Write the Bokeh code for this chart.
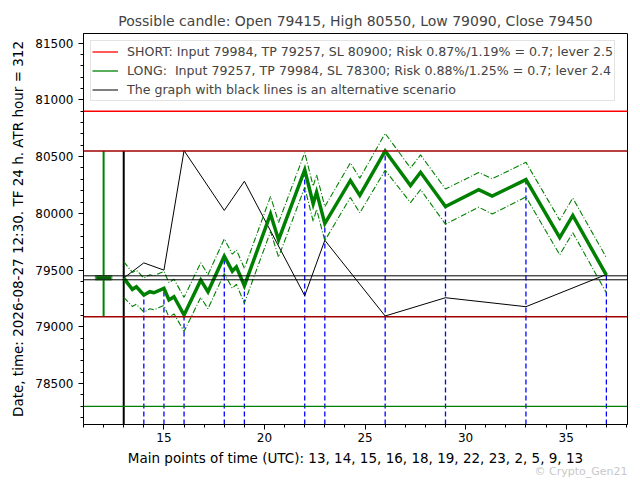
from bokeh.plotting import figure
from bokeh.models import Range1d, Span, Legend, LegendItem, Title, SingleIntervalTicker
from bokeh.embed import file_html
from bokeh.resources import INLINE

# ---------------- data ----------------
TITLE = "Possible candle: Open 79415, High 80550, Low 79090, Close 79450"
Y_LABEL = "Date, time: 2026-08-27 12:30. TF 24 h. ATR hour = 312"
X_LABEL = "Main points of time (UTC): 13, 14, 15, 16, 18, 19, 22, 23, 2, 5, 9, 13"
WATERMARK = "\u00a9 Crypto_Gen21"

candle_x = 12
OPEN, HIGH, LOW, CLOSE = 79415, 80550, 79090, 79450
SHORT_SL = 80900
LONG_SL = 78300

legend_labels = [
    "SHORT: Input 79984, TP 79257, SL 80900; Risk 0.87%/1.19% = 0.7; lever 2.5",
    "LONG:  Input 79257, TP 79984, SL 78300; Risk 0.88%/1.25% = 0.7; lever 2.4",
    "The graph with black lines is an alternative scenario",
]

main_hours = [13, 14, 15, 16, 18, 19, 22, 23, 26, 29, 33, 37]
alt_values = [79430, 79564, 79500, 80553, 80026, 80283, 79275, 79763, 79096, 79257, 79178, 79462]

path_hours = [13.0, 13.43, 13.63, 14.0, 14.3, 14.5, 15.0, 15.25, 15.5, 16.0, 16.83, 17.19,
              18.0, 18.4, 18.6, 19.0, 20.3, 20.7, 22.0, 22.42, 22.59, 23.0, 24.27, 24.74,
              26.0, 27.26, 27.76, 29.0, 30.65, 31.32, 33.0, 34.68, 35.33, 37.0]
path_main = [79430, 79331, 79353, 79281, 79310, 79301, 79340, 79237, 79266, 79105, 79412, 79310,
             79623, 79491, 79529, 79362, 79995, 79766, 80383, 80085, 80187, 79910, 80290, 80158,
             80550, 80246, 80362, 80061, 80208, 80152, 80298, 79787, 79982, 79456]
path_upper = [79575, 79480, 79500, 79430, 79460, 79450, 79490, 79390, 79420, 79260, 79565, 79460,
              79775, 79640, 79680, 79515, 80150, 79920, 80535, 80240, 80340, 80060, 80445, 80310,
              80705, 80400, 80515, 80215, 80360, 80305, 80450, 79940, 80135, 79610]
path_lower = [79260, 79180, 79200, 79130, 79160, 79150, 79190, 79085, 79115, 78960, 79260, 79160,
              79470, 79340, 79375, 79210, 79840, 79615, 80230, 79930, 80035, 79760, 80140, 80005,
              80380, 80095, 80210, 79905, 80055, 79995, 80145, 79635, 79830, 79300]

X_MIN, X_MAX = 11.0, 38.05
Y_MIN, Y_MAX = 78140, 81585

FONT = "DejaVu Sans"

# ---------------- figure ----------------
p = figure(width=638, height=478, x_range=Range1d(X_MIN, X_MAX), y_range=Range1d(Y_MIN, Y_MAX),
           output_backend="svg", toolbar_location=None, title=TITLE,
           min_border_left=83, min_border_right=11, min_border_top=33, min_border_bottom=54)

p.title.align = "center"
p.title.text_font = FONT
p.title.text_font_size = "14px"
p.title.text_font_style = "normal"
p.title.standoff = 10

p.grid.visible = False
p.outline_line_color = "black"
p.outline_line_alpha = 1
p.outline_line_width = 1

p.xaxis.ticker = SingleIntervalTicker(interval=5, num_minor_ticks=5)
p.yaxis.ticker = SingleIntervalTicker(interval=500, num_minor_ticks=5)
for ax in (p.xaxis[0], p.yaxis[0]):
    ax.major_tick_in = 0
    ax.major_tick_out = 5
    ax.minor_tick_in = 0
    ax.minor_tick_out = 3
    ax.major_label_text_font = FONT
    ax.major_label_text_font_size = "12px"
    ax.major_label_text_color = "black"
    ax.axis_label_text_font = FONT
    ax.axis_label_text_font_size = "13.5px"
    ax.axis_label_text_font_style = "normal"
    ax.axis_label_text_color = "black"
    ax.axis_line_color = "black"
    ax.major_tick_line_color = "black"
    ax.minor_tick_line_color = "black"
p.xaxis.major_label_standoff = 3
p.yaxis.major_label_standoff = 5
p.xaxis.axis_label = X_LABEL
p.yaxis.axis_label = Y_LABEL
p.xaxis.axis_label_standoff = 5
p.yaxis.axis_label_standoff = 6

# horizontal levels
p.add_layout(Span(location=SHORT_SL, dimension="width", line_color="#ff0000", line_width=1.3))
p.add_layout(Span(location=HIGH, dimension="width", line_color="#a00000", line_width=1.6))
p.add_layout(Span(location=LOW, dimension="width", line_color="#a00000", line_width=1.6))
p.add_layout(Span(location=LONG_SL, dimension="width", line_color="#008000", line_width=1.3))
p.add_layout(Span(location=CLOSE, dimension="width", line_color="black", line_width=1))
p.add_layout(Span(location=OPEN, dimension="width", line_color="black", line_width=1))

# legend carriers (single point: nothing visible in the plot)
r_short = p.line(x=[X_MIN], y=[SHORT_SL], line_color="#ff0000", line_width=1.3)
r_long = p.line(x=[X_MIN], y=[LONG_SL], line_color="#008000", line_width=1.3)

# candle
p.segment(x0=[candle_x], y0=[LOW], x1=[candle_x], y1=[HIGH], line_color="#008000", line_width=2)
p.vbar(x=[candle_x], width=0.8, top=[CLOSE], bottom=[OPEN], fill_color="#006400",
       line_color="#55b055", line_width=1.5)

# start vertical line
p.segment(x0=[main_hours[0]], y0=[Y_MIN], x1=[main_hours[0]], y1=[HIGH], line_color="black", line_width=2)

# blue dashed verticals at main points
lookup = dict(zip(path_hours, path_main))
vx = main_hours[1:]
vy = [lookup[h] for h in vx]
p.segment(x0=vx, y0=[Y_MIN] * len(vx), x1=vx, y1=vy, line_color="#0000ff", line_width=1.3,
          line_dash="5 3")

# alternative scenario
r_alt = p.line(main_hours, alt_values, line_color="black", line_width=1)

# long scenario with bands
p.line(path_hours, path_upper, line_color="#008000", line_width=1.1, line_dash="6 2 1 2")
p.line(path_hours, path_lower, line_color="#008000", line_width=1.1, line_dash="6 2 1 2")
p.line(path_hours, path_main, line_color="#008000", line_width=3.5, line_join="miter")

legend = Legend(items=[LegendItem(label=legend_labels[0], renderers=[r_short]),
                       LegendItem(label=legend_labels[1], renderers=[r_long]),
                       LegendItem(label=legend_labels[2], renderers=[r_alt])],
                location="top_left", border_line_color="#c8c8c8", border_line_width=1,
                background_fill_alpha=0.85, label_text_font=FONT, label_text_font_size="12.6px",
                glyph_width=26, glyph_height=19, label_height=19, label_standoff=9,
                padding=1, spacing=0, margin=7)
p.add_layout(legend)

p.add_layout(Title(text=WATERMARK, align="right", standoff=-18, text_color="#c8c8c8",
                   text_font=FONT, text_font_size="11px", text_font_style="normal"), "below")

open("out.html", "w").write(file_html(p, INLINE))
